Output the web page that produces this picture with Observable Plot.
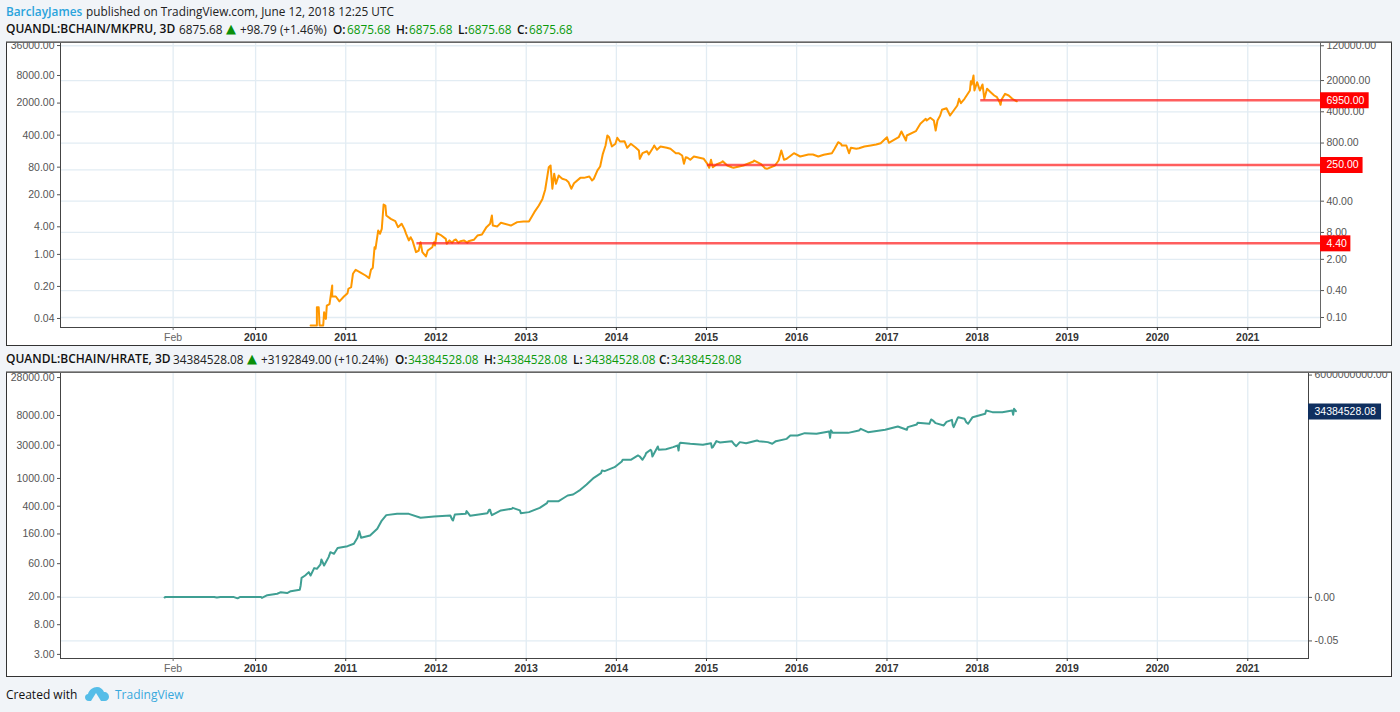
<!DOCTYPE html>
<html><head><meta charset="utf-8">
<script src="https://cdn.jsdelivr.net/npm/d3@7"></script>
<script src="https://cdn.jsdelivr.net/npm/@observablehq/plot@0.6"></script>
<style>
html,body{margin:0;padding:0;background:#f1f4f8;width:1400px;height:712px;overflow:hidden;}
.t{position:absolute;font:11.8px/16px "Open Sans",sans-serif;white-space:nowrap;color:#222;}
.pane{position:absolute;left:6px;width:1384px;background:#fff;border:1px solid #333;border-top:1px solid #666;box-shadow:0 -1px 0 #999;}
.pane svg{display:block;overflow:hidden;}
</style></head><body>
<div id="root"></div>
<script>
const priceYears=[2010.61,2010.68,2010.68,2010.70,2010.71,2010.75,2010.76,2010.78,2010.79,2010.82,2010.85,2010.85,2010.89,2010.93,2010.98,2011.02,2011.03,2011.06,2011.08,2011.11,2011.16,2011.22,2011.26,2011.28,2011.30,2011.32,2011.33,2011.36,2011.38,2011.40,2011.42,2011.44,2011.45,2011.50,2011.55,2011.58,2011.62,2011.65,2011.70,2011.74,2011.78,2011.81,2011.83,2011.85,2011.89,2011.91,2011.96,2011.98,2011.99,2012.01,2012.05,2012.11,2012.12,2012.15,2012.18,2012.20,2012.27,2012.36,2012.42,2012.46,2012.51,2012.56,2012.60,2012.62,2012.63,2012.68,2012.72,2012.83,2012.90,2012.97,2013.03,2013.09,2013.14,2013.18,2013.21,2013.25,2013.27,2013.29,2013.31,2013.33,2013.38,2013.44,2013.47,2013.50,2013.53,2013.64,2013.75,2013.79,2013.82,2013.85,2013.88,2013.90,2013.92,2013.95,2013.99,2014.01,2014.04,2014.09,2014.12,2014.16,2014.21,2014.25,2014.26,2014.29,2014.36,2014.41,2014.45,2014.49,2014.60,2014.66,2014.73,2014.75,2014.77,2014.82,2014.86,2014.97,2015.01,2015.03,2015.05,2015.07,2015.17,2015.23,2015.28,2015.41,2015.52,2015.60,2015.65,2015.76,2015.80,2015.83,2015.86,2015.89,2015.97,2016.04,2016.13,2016.30,2016.39,2016.42,2016.46,2016.50,2016.55,2016.58,2016.60,2016.69,2016.82,2016.93,2017.00,2017.02,2017.13,2017.16,2017.21,2017.22,2017.32,2017.37,2017.43,2017.52,2017.54,2017.56,2017.61,2017.66,2017.70,2017.78,2017.80,2017.82,2017.86,2017.92,2017.93,2017.94,2017.96,2017.97,2018.00,2018.03,2018.06,2018.08,2018.11,2018.15,2018.19,2018.22,2018.25,2018.27,2018.31,2018.35,2018.39,2018.44];
const priceValues=[0.066,0.066,0.17,0.17,0.066,0.066,0.131,0.093,0.185,0.20,0.52,0.295,0.295,0.23,0.295,0.35,0.44,0.48,0.95,1.17,1.02,0.87,0.76,1.17,1.29,3.74,3.44,8.8,7.45,9.6,33.7,32,19.1,16.1,14.3,10.5,12.5,9.6,5.3,5.3,2.9,3.15,4.84,2.9,2.32,3.15,3.74,4.84,4.08,7.7,7.08,5.75,4.46,5.3,4.69,5.3,5.09,5.09,5.47,6.8,7.2,10.5,12.5,19.1,11.4,10.9,13.2,11.4,13.6,14.1,14.1,22.7,32,45,72,230,251,76,164,98,138,120,106,76,101,133,127,195,239,459,705,1181,1079,670,769,1047,865,879,625,769,646,545,355,474,444,646,565,670,594,474,421,274,385,337,400,355,274,223,337,230,298,251,230,251,309,274,219,251,325,545,337,355,474,400,444,437,474,594,836,705,705,474,625,612,705,794,1079,809,1079,1449,912,1181,1472,2155,2786,2553,1524,2553,4436,4808,3304,5530,7816,6223,7816,11970,19300,16300,25900,11970,18400,11970,16300,7816,13060,10960,9250,8480,6560,7420,10090,9250,7816,6875.68];
const priceWiggleYears=[2011.67,2011.72,2012.22,2012.25,2012.31,2012.35,2013.36,2013.40,2013.60,2013.70,2013.73,2014.34,2014.42,2014.56,2014.69,2014.79,2015.11,2015.18,2015.30,2015.53,2015.67,2016.18,2016.24,2016.49,2016.66,2016.75,2016.88,2017.44,2017.48,2017.59,2018.26];
const priceWiggleValues=[7.45,6.25,5.56,4.69,5.3,4.69,150,127,133,143,116,525,705,625,474,374,265,314,223,325,212,444,400,769,594,670,741,2553,2938,3304,5729];

const hashYears=[2008.99,2009.00,2009.54,2009.57,2009.61,2009.76,2009.80,2009.83,2010.06,2010.07,2010.13,2010.24,2010.28,2010.35,2010.39,2010.49,2010.50,2010.51,2010.55,2010.59,2010.61,2010.65,2010.68,2010.72,2010.73,2010.76,2010.81,2010.83,2010.87,2010.91,2011.02,2011.09,2011.13,2011.15,2011.17,2011.27,2011.35,2011.40,2011.45,2011.57,2011.70,2011.83,2011.98,2012.16,2012.18,2012.21,2012.33,2012.38,2012.57,2012.59,2012.61,2012.72,2012.84,2012.93,2013.03,2013.15,2013.23,2013.36,2013.42,2013.52,2013.60,2013.67,2013.75,2013.83,2013.87,2013.98,2014.06,2014.16,2014.26,2014.32,2014.39,2014.47,2014.55,2014.63,2014.68,2014.70,2014.82,2014.96,2015.05,2015.07,2015.15,2015.31,2015.37,2015.44,2015.58,2015.68,2015.77,2015.89,2016.01,2016.09,2016.22,2016.36,2016.37,2016.40,2016.57,2016.69,2016.79,2016.98,2017.12,2017.23,2017.33,2017.47,2017.51,2017.54,2017.66,2017.72,2017.73,2017.78,2017.86,2017.88,2017.95,2018.09,2018.17,2018.28,2018.39,2018.43];
const hashValues=[19.6,20,20,19.6,20,19.9,19.1,20,20,19.4,21.2,22.2,23.4,22.7,24.2,25.3,29.2,37.6,40.6,45.4,40.6,51.8,50.6,58.5,68.9,56.5,74.5,87.7,83,101,107,116,141,175,141,152,190,249,298,311,311,273,285,294,258,304,311,291,318,355,318,348,367,348,329,379,443,473,529,589,687,820,1021,1191,1274,1452,1750,1849,2065,2133,2466,2576,2630,2811,2972,3137,3137,3034,3206,2811,3281,3069,3319,3206,3428,3319,3428,3698,4130,4467,4365,4721,3828,4508,4508,4875,4613,4980,5558,5445,5943,6072,6775,6209,6486,6934,5808,7161,7161,6412,7568,8453,8933,8933,9440,9226];
const hashWiggleYears=[2012.19,2012.34,2012.60,2012.62,2012.85,2012.94,2013.24,2013.46,2013.84,2014.07,2014.24,2014.29,2014.33,2014.38,2014.40,2014.46,2014.69,2014.71,2015.06,2015.11,2015.28,2015.33,2015.56,2015.73,2015.93,2016.38,2016.71,2017.22,2017.34,2017.49,2017.63,2017.74,2017.79,2017.90,2018.10,2018.40,2018.41];
const hashWiggleValues=[250,340,356,298,379,318,472,570,1300,1853,2136,1853,2307,2576,2064,2875,2517,3250,2754,3430,3430,2904,3508,3141,4130,4916,5150,4985,6284,7010,5755,5435,7568,6085,9440,8190,9990];

const xTickYears=[2010,2011,2012,2013,2014,2015,2016,2017,2018,2019,2020,2021];
const febTickYear=2009.085;

const priceLeftTicks=[36000,8000,2000,400,80,20,4,1,0.2,0.04];
const priceRightTicks=[120000,20000,4000,800,200,40,8,2,0.4,0.1];
const priceLevels=[6950,250,4.4];
const priceLevelStarts=[2018.04,2015.01,2011.79];

const hashLeftTicks=[28000,8000,3000,1000,400,160,60,20,8,3];
const hashRightLabels=["6000000000.00","0.00","-0.05"];
const hashRightAtLeftUnits=[30360,19.7,4.68];
const hashLast=9130, hashLastLabel="34384528.08";

const yd=y=>{const Y=Math.floor(y),a=Date.UTC(Y,0,1),b=Date.UTC(Y+1,0,1);return new Date(a+(y-Y)*(b-a));};
const merged=(ya,va,yb,vb)=>[...ya.map((y,i)=>({y,v:va[i]})),...yb.map((y,i)=>({y,v:vb[i]}))].sort((p,q)=>p.y-q.y).map(d=>({x:yd(d.y),y:d.v}));
const root=document.getElementById("root");
function t(x,y,text,css){const s=document.createElement("span");s.className="t";s.style.left=x+"px";s.style.top=y+"px";s.textContent=text;if(css)s.style.cssText+=css;root.appendChild(s);return s;}
const G="color:#0a9a0a;",B="font-weight:600;color:#111;",TRI="color:#0a8f0a;font:13px/16px 'DejaVu Sans';";

// header rows
t(6,3,"BarclayJames","color:#2aa3dc;font-weight:600;");
t(86,3,"published on TradingView.com, June 12, 2018 12:25 UTC");
t(6,21,"QUANDL:BCHAIN/MKPRU, 3D","font-weight:600;color:#111;font-size:12px;");
t(179,21,"6875.68");
t(226,21,"▲",TRI);
t(240,21,"+98.79 (+1.46%)");
[[333,347,"O:"],[396,409,"H:"],[458,468,"L:"],[517,529,"C:"]].forEach(([a,b,l])=>{t(a,21,l,B);t(b,21,"6875.68",G);});
t(6,351,"QUANDL:BCHAIN/HRATE, 3D","font-weight:600;color:#111;font-size:12px;");
t(173,351,"34384528.08");
t(247,351,"▲",TRI);
t(261,351,"+3192849.00 (+10.24%)");
[[395,408,"O:"],[484,497,"H:"],[573,585,"L:"],[659,671,"C:"]].forEach(([a,b,l])=>{t(a,351,l,B);t(b,351,"34384528.08",G);});

const W=1384, FONT='10.5px "Liberation Sans",Arial,sans-serif';
const style={font:FONT,background:"transparent",overflow:"hidden"};
const gridC="#e2ecf3", axC="#555";
const yearTicks=xTickYears.map(yd), feb=[yd(febTickYear)];
const yearLabel=d=>String(d.getUTCFullYear());
const xAxes=()=>[
  Plot.axisX(yearTicks,{tickSize:3,tickPadding:3,tickFormat:yearLabel,fontWeight:"bold",color:"#333",label:null}),
  Plot.axisX(feb,{tickSize:3,tickPadding:3,tickFormat:()=>"Feb",color:"#666",label:null})
];
const xGrid=()=>Plot.gridX([...feb,...yearTicks],{stroke:gridC,strokeOpacity:1,strokeWidth:1.3});
const fixed=d=>d.toFixed(2);
const pxYear=1/90.2;
const leftAxis=(pos,lab)=>[
  Plot.axisY(pos,{anchor:"left",tickSize:3,stroke:axC,fill:"none",label:null}),
  Plot.text(pos,{y:d=>d,text:(d,i)=>lab[i],frameAnchor:"left",dx:-6,textAnchor:"end",fill:axC})
];
const rightAxis=(pos,lab)=>[
  Plot.axisY(pos,{anchor:"right",tickSize:3,stroke:axC,fill:"none",label:null}),
  Plot.text(pos,{y:d=>d,text:(d,i)=>lab[i],frameAnchor:"right",dx:6,textAnchor:"start",fill:axC})
];

// price pane: the series lives on the right-hand log axis; the left axis is the second log axis of the same pane
const pEndYear=2021.807;
const pDomainX=[yd(2007.838),yd(pEndYear)];
const priceData=merged(priceYears,priceValues,priceWiggleYears,priceWiggleValues);
const leftToRight=v=>Math.pow(10,0.4115+1.0255*Math.log10(v));
const levels=priceLevels.map((v,i)=>({y:v,x1:yd(priceLevelStarts[i]),x2:pDomainX[1],label:fixed(v),
  xEnd:yd(pEndYear+(fixed(v).length*6.1+6)*pxYear)}));

const pricePlot=Plot.plot({
  width:W,height:302,marginLeft:53,marginRight:71,marginTop:0,marginBottom:18,style,
  x:{type:"utc",domain:pDomainX,axis:null},
  y:{type:"log",domain:[0.0597,134900],axis:null},
  marks:[
    xGrid(),
    Plot.gridY(priceRightTicks,{stroke:gridC,strokeOpacity:1,strokeWidth:1.3}),
    Plot.frame({stroke:"#444",anchor:"left"}),Plot.frame({stroke:"#444",anchor:"bottom"}),Plot.frame({stroke:"#666",anchor:"right"}),
    ...xAxes(),
    ...leftAxis(priceLeftTicks.map(leftToRight),priceLeftTicks.map(fixed)),
    ...rightAxis(priceRightTicks,priceRightTicks.map(fixed)),
    Plot.line(priceData,{x:"x",y:"y",stroke:"#ff9800",strokeWidth:2,clip:true}),
    Plot.ruleY(levels,{y:"y",x1:"x1",x2:"x2",dy:-0.7,stroke:"#ff2020",strokeOpacity:.72,strokeWidth:2.5}),
    Plot.ruleY(levels,{y:"y",x1:()=>pDomainX[1],x2:"xEnd",dy:-0.7,stroke:"#ff0000",strokeWidth:16}),
    Plot.text(levels,{y:"y",x:()=>pDomainX[1],dx:6,dy:-0.7,text:"label",textAnchor:"start",fill:"#fff"})
  ]
});

// hash-rate pane
const hEndYear=2021.674;
const hDomainX=[yd(2007.838),yd(hEndYear)];
const hashData=merged(hashYears,hashValues,hashWiggleYears,hashWiggleValues);
const last=[{y:hashLast,label:hashLastLabel,xEnd:yd(hEndYear+(hashLastLabel.length*6.1+6)*pxYear)}];
const hashPlot=Plot.plot({
  width:W,height:303,marginLeft:53,marginRight:83,marginTop:0,marginBottom:18,style,
  x:{type:"utc",domain:hDomainX,axis:null},
  y:{type:"log",domain:[2.62,32000],axis:null},
  marks:[
    xGrid(),
    Plot.gridY(hashRightAtLeftUnits.slice(1),{stroke:gridC,strokeOpacity:1,strokeWidth:1.3}),
    Plot.frame({stroke:"#444",anchor:"left"}),Plot.frame({stroke:"#444",anchor:"bottom"}),Plot.frame({stroke:"#444",anchor:"right"}),
    ...xAxes(),
    ...leftAxis(hashLeftTicks,hashLeftTicks.map(fixed)),
    ...rightAxis(hashRightAtLeftUnits,hashRightLabels),
    Plot.line(hashData,{x:"x",y:"y",stroke:"#3f9f93",strokeWidth:2,clip:true}),
    Plot.ruleY(last,{y:"y",x1:()=>hDomainX[1],x2:"xEnd",stroke:"#0f2f5f",strokeWidth:16}),
    Plot.text(last,{y:"y",x:()=>hDomainX[1],dx:6,text:"label",textAnchor:"start",fill:"#fff"})
  ]
});

function pane(top,node){const d=document.createElement("div");d.className="pane";d.style.top=top+"px";d.appendChild(node);root.appendChild(d);}
pane(42,pricePlot);
pane(372,hashPlot);

// footer
t(6,687,"Created with","color:#111;font-size:12px;");
t(115,687,"TradingView","color:#38a8dc;font-size:12px;");
const ns="http://www.w3.org/2000/svg";
const logo=document.createElementNS(ns,"svg");
logo.setAttribute("width","24");logo.setAttribute("height","16");
logo.style.cssText="position:absolute;left:85px;top:686px;";
logo.innerHTML='<path fill="#55bde8" d="M4 15C1 15 0 13 0 11C0 9 2 8 3 8C4 4 8 1 12 1C15 1 18 3 19 6C22 6 24 8 24 11C24 13 22 15 20 15L16 15L11 7L6 15Z"/>';
root.appendChild(logo);
</script>
</body></html>
